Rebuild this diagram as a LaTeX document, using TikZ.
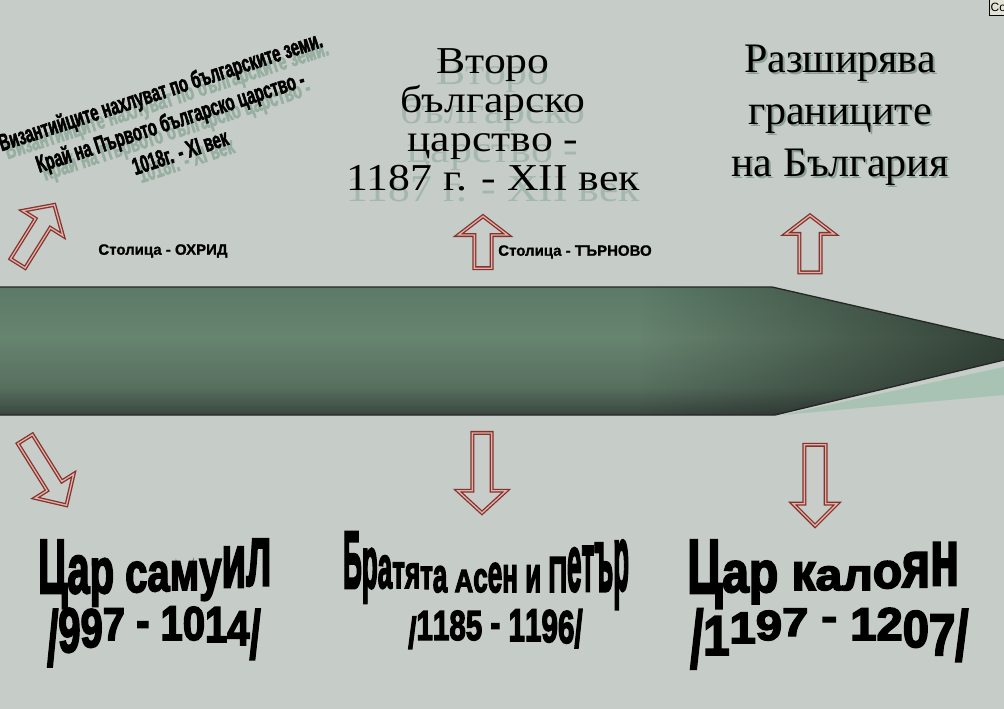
\documentclass[tikz,border=0pt]{standalone}
\usepackage{fontspec}
\usepackage{graphicx}
\usetikzlibrary{shapes.arrows,fadings}
\setmainfont{Liberation Serif}
\newfontfamily\serifA{Liberation Serif}
\newfontfamily\serifW[FakeStretch=1.15]{Liberation Serif}
\newfontfamily\narrowB[FakeStretch=0.62,BoldFeatures={FakeBold=2}]{Liberation Sans}
\newfontfamily\sansB[BoldFeatures={FakeBold=1}]{Liberation Sans}
\newfontfamily\heavyB[FakeBold=3.5,BoldFeatures={FakeBold=3.5}]{Liberation Sans}
\newcommand\gl[3]{\raisebox{#2pt}{\scalebox{1}[#1]{#3}}}
\definecolor{bg}{HTML}{C6CCC8}
\definecolor{bartop}{HTML}{5C7A67}
\definecolor{barmid}{HTML}{67846F}
\definecolor{barlow}{HTML}{576F5F}
\definecolor{barbot}{HTML}{3B4740}
\definecolor{arrowred}{HTML}{84322C}
\definecolor{arrowpink}{HTML}{E0B2A9}
\definecolor{arrowfill}{HTML}{C9CDCA}
\definecolor{shadeA}{HTML}{97AFA1}
\definecolor{shadeB}{HTML}{A4B7AC}
\definecolor{shadeC}{HTML}{8C9F94}
\definecolor{tipshadow}{HTML}{A8C3B4}
\definecolor{tipbox}{HTML}{E2E2D6}
\pgfdeclareverticalshading{barshade}{100bp}{color(0bp)=(barbot); color(25bp)=(barbot); color(36bp)=(barlow); color(55bp)=(barmid); color(75bp)=(bartop); color(100bp)=(bartop)}
\tikzfading[name=fadeR, left color=transparent!100, right color=transparent!0]
\tikzset{
  blockarrow/.style={single arrow, draw=arrowred, line width=1.3pt, double=arrowpink,
    double distance=1.3pt, fill=arrowfill, inner xsep=0pt, single arrow head indent=0pt},
  toptextL/.style={font=\narrowB\bfseries\fontsize{24}{32}\selectfont, align=center, rotate=18, inner sep=0pt},
  toptextM/.style={font=\serifW\fontsize{38}{39}\selectfont, align=center, inner sep=0pt},
  toptextR/.style={font=\serifA\fontsize{42}{52}\selectfont, align=center, inner sep=0pt},
  capital/.style={font=\sansB\bfseries\fontsize{15}{16}\selectfont, inner sep=0pt},
  ruler/.style={font=\heavyB\bfseries\fontsize{40}{40}\selectfont, anchor=base west, inner sep=0pt}
}
\begin{document}
\begin{tikzpicture}[x=1pt,y=-1pt]
\useasboundingbox (0,0) rectangle (1004,709);
\fill[bg] (0,0) rectangle (1004,709);

% timeline bar
\coordinate (b1) at (0,287);
\coordinate (b2) at (772,287);
\coordinate (b3) at (1004,340);
\coordinate (b4) at (1004,360);
\coordinate (b5) at (775,415);
\coordinate (b6) at (0,415);
\coordinate (s1) at (782,415);
\coordinate (s2) at (1004,367);
\coordinate (s3) at (1004,395);
\fill[tipshadow] (s1) -- (s2) -- (s3) -- cycle;
\path[shading=barshade] (b1) -- (b2) -- (b3) -- (b4) -- (b5) -- (b6) -- cycle;
\begin{scope}
  \clip (b1) -- (b2) -- (b3) -- (b4) -- (b5) -- (b6) -- cycle;
  \fill[black, opacity=0.5, path fading=fadeR] (640,280) rectangle (1004,420);
\end{scope}
\draw[line width=1.3pt, black!85] (b1) -- (b2) -- (b3);
\draw[line width=1.3pt, black!85] (b4) -- (b5) -- (b6);

% arrows
\node[blockarrow, rotate=58, inner ysep=8pt, minimum height=69pt, minimum width=46pt, single arrow head extend=15pt, single arrow tip angle=95] (a1) at (34,237.5) {};
\node[blockarrow, rotate=-58, inner ysep=8pt, minimum height=78pt, minimum width=44pt, single arrow head extend=14pt, single arrow tip angle=90] (a2) at (43.5,468.5) {};
\node[blockarrow, rotate=90, inner ysep=8pt, minimum height=52pt, minimum width=48pt, single arrow head extend=16pt, single arrow tip angle=105] (a3) at (483,245.5) {};
\node[blockarrow, rotate=-90, inner ysep=9pt, minimum height=80pt, minimum width=47pt, single arrow head extend=14.5pt, single arrow tip angle=95] (a4) at (482,468.5) {};
\node[blockarrow, rotate=90, inner ysep=10pt, minimum height=57pt, minimum width=47pt, single arrow head extend=13.5pt, single arrow tip angle=105] (a5) at (810,248) {};
\node[blockarrow, rotate=-90, inner ysep=10pt, minimum height=81pt, minimum width=43pt, single arrow head extend=11.5pt, single arrow tip angle=90] (a6) at (815,480) {};

% top-left text
\node[toptextL, text=shadeA] (tlshadow) at (176,129) {Византийците нахлуват по българските земи.\\Край на Първото българско царство -\\1018г. - XI век};
\node[toptextL] (tl) at (170,121) {Византийците нахлуват по българските земи.\\Край на Първото българско царство -\\1018г. - XI век};

% middle top text
\node[toptextM, text=shadeB] (tmshadow) at (493,131) {Второ\\българско\\царство -\\1187 г. - XII век};
\node[toptextM] (tm) at (493,120) {Второ\\българско\\царство -\\1187 г. - XII век};

% right top text
\node[toptextR, text=shadeC] (trshadow) at (842,117.5) {Разширява\\границите\\на България};
\node[toptextR] (tr) at (840,115.5) {Разширява\\границите\\на България};

% capitals
\node[capital] (cap1) at (163,251) {Столица - ОХРИД};
\node[capital] (cap2) at (575,252) {Столица - ТЪРНОВО};

% rulers
\node[ruler] (l1) at (38,590) {\scalebox{1.0}[1]{\gl{1.92}{-3}{Ц}\gl{1.73}{-3}{а}\gl{1.6}{-3}{р} \gl{1.4}{-2}{с}\gl{1.35}{-1}{а}\gl{1.35}{0}{м}\gl{1.4}{1}{у}\gl{1.88}{3}{и}\gl{2.16}{5}{л}}};
\node[ruler] (l2) at (47,645) {\scalebox{1.0}[1]{\gl{1.92}{-20}{/}\gl{1.57}{-7}{9}\gl{1.36}{-2}{9}\gl{1.15}{5}{7} \gl{1.2}{8}{-} \gl{1.22}{5}{1}\gl{1.19}{5}{0}\gl{1.26}{3}{1}\gl{1.22}{0}{4}\gl{1.68}{-13}{/}}};
\node[ruler] (m1) at (343,592) {\scalebox{0.65}[1]{\gl{2.03}{4}{Б}\gl{1.83}{4}{р}\gl{1.5}{4}{а}\gl{1.2}{4}{т}\gl{1.15}{4}{я}\gl{1.05}{3}{т}\gl{1.2}{0}{а} \gl{0.8}{0}{А}\gl{1.06}{0}{с}\gl{1.35}{0}{е}\gl{1.25}{0}{н} \gl{1.25}{0}{и} \gl{1.26}{0}{П}\gl{2.0}{1}{е}\gl{2.1}{1}{т}\gl{2.25}{1}{ъ}\gl{2.3}{2}{р}}};
\node[ruler] (m2) at (408,640) {\scalebox{0.74}[1]{\gl{1.08}{-8}{/}\gl{1.05}{0}{1}\gl{1.05}{0}{1}\gl{1.05}{0}{8}\gl{1.05}{0}{5} \gl{1.05}{3}{-} \gl{1.15}{-1}{1}\gl{1.15}{-1}{1}\gl{1.15}{-2}{9}\gl{1.15}{-3}{6}\gl{1.3}{-7}{/}}};
\node[ruler] (r1) at (687,590) {\scalebox{1.2}[1]{\gl{1.92}{-3}{Ц}\gl{1.44}{-2}{а}\gl{1.44}{-2}{р} \gl{1.3}{0}{к}\gl{1.1}{0}{а}\gl{1.1}{0}{л}\gl{1.25}{2}{о}\gl{1.63}{3}{я}\gl{2.0}{5}{н}}};
\node[ruler] (r2) at (690,640) {\scalebox{1.18}[1]{\gl{2.0}{-27}{/}\gl{1.4}{-15}{1}\gl{1.1}{-3}{1}\gl{1.05}{0}{9}\gl{1.0}{4}{7} \gl{1.0}{10}{-} \gl{1.15}{0}{1}\gl{1.15}{0}{2}\gl{1.3}{-7}{0}\gl{1.47}{-15}{7}\gl{1.75}{-20}{/}}};

% corner tooltip
\node[draw=black, fill=tipbox, font=\sansB\fontsize{12}{12}\selectfont, anchor=north west, inner sep=1.5pt, minimum height=17pt, text height=9pt] (co) at (989,-2) {Co};
\end{tikzpicture}
\end{document}
